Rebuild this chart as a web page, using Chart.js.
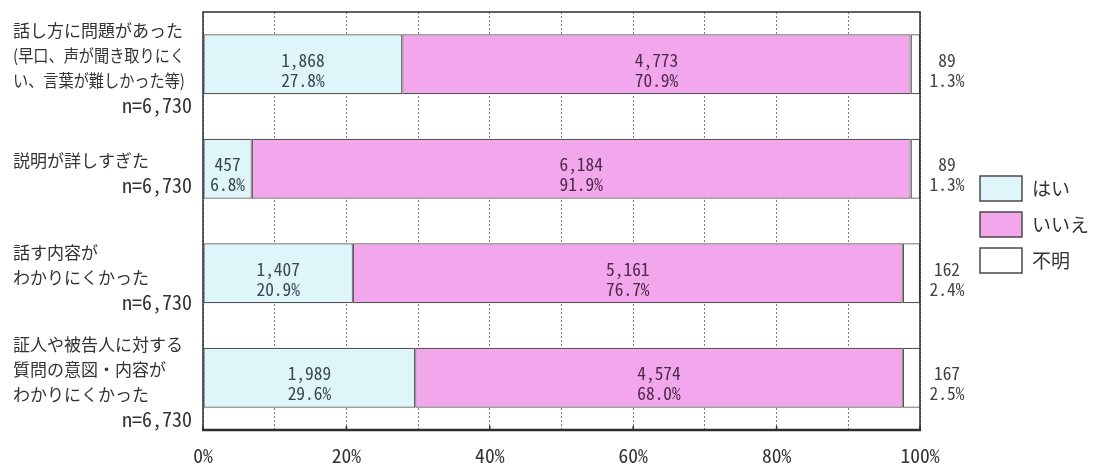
<!DOCTYPE html>
<html lang="ja">
<head>
<meta charset="utf-8">
<title>法廷での説明についての回答</title>
<script src="https://cdn.jsdelivr.net/npm/chart.js@4.4.1/dist/chart.umd.min.js"></script>
<style>
  html, body { margin: 0; padding: 0; background: #ffffff; }
  #wrap { position: relative; width: 1094px; height: 464px; }
</style>
</head>
<body>
<div id="wrap"><canvas id="chart"></canvas></div>
<script>
// Question labels (one entry per line) and sample sizes
const categories = [
  ['話し方に問題があった', '(早口、声が聞き取りにく', 'い、言葉が難しかった等)'],
  ['説明が詳しすぎた'],
  ['話す内容が', 'わかりにくかった'],
  ['証人や被告人に対する', '質問の意図・内容が', 'わかりにくかった']
];
const sampleSizes = [6730, 6730, 6730, 6730];

// Answer counts
const yesCounts = [1868, 457, 1407, 1989];
const noCounts = [4773, 6184, 5161, 4574];
const unknownCounts = [89, 89, 162, 167];

// Answer shares (%)
const yesPct = [27.8, 6.8, 20.9, 29.6];
const noPct = [70.9, 91.9, 76.7, 68.0];
const unknownPct = [1.3, 1.3, 2.4, 2.5];

// Series names and axis ticks
const seriesNames = ['はい', 'いいえ', '不明'];
const xTicks = [0, 20, 40, 60, 80, 100];

const COLORS = {
  yes: '#def6fa',
  no: '#f2a6ec',
  unknown: '#ffffff',
  border: '#555555',
  frame: '#2e2e2e',
  grid: '#7a7a7a',
  text: '#333333'
};

const JP_FONT = '"Noto Sans CJK JP", "Noto Sans", sans-serif';
const MONO_FONT = '"Noto Sans Mono CJK JP", "Liberation Mono", monospace';

// Pick a monospace font size that gives the requested character cell width
const sizeCache = {};
function monoSize(ctx, cell) {
  if (!sizeCache.w) {
    ctx.save();
    ctx.font = '100px ' + MONO_FONT;
    sizeCache.w = ctx.measureText('0').width;
    ctx.restore();
  }
  return cell * 100 / sizeCache.w;
}

const fmtCount = n => n.toLocaleString('en-US');
const fmtPct = p => p.toFixed(1) + '%';

const counts = [yesCounts, noCounts, unknownCounts];
const pcts = [yesPct, noPct, unknownPct];

// Plot frame, small bottom ticks, value labels, left question labels, legend
const decorations = {
  id: 'decorations',
  afterDatasetsDraw(chart) {
    const { ctx, chartArea: a, scales } = chart;
    const xs = scales.x, ys = scales.y;

    // value labels
    ctx.save();
    ctx.font = monoSize(ctx, 8.7).toFixed(2) + 'px ' + MONO_FONT;
    ctx.textAlign = 'center';
    ctx.textBaseline = 'middle';
    chart.data.datasets.forEach((ds, di) => {
      const meta = chart.getDatasetMeta(di);
      meta.data.forEach((bar, i) => {
        let cx;
        if (di === 2) {
          cx = a.right + 27;
          ctx.fillStyle = '#444444';
        } else {
          cx = (bar.x + bar.base) / 2;
          ctx.fillStyle = di === 0 ? '#3b4650' : '#4c2a4a';
        }
        ctx.fillText(fmtCount(counts[di][i]), cx, bar.y - 4);
        ctx.fillText(fmtPct(pcts[di][i]), cx, bar.y + 16);
      });
    });
    ctx.restore();

    // frame around the plot
    ctx.save();
    ctx.strokeStyle = COLORS.frame;
    ctx.lineWidth = 1.5;
    ctx.beginPath();
    ctx.moveTo(a.left, a.bottom);
    ctx.lineTo(a.left, a.top);
    ctx.lineTo(a.right, a.top);
    ctx.lineTo(a.right, a.bottom);
    ctx.stroke();
    ctx.lineWidth = 2.5;
    ctx.beginPath();
    ctx.moveTo(a.left - 1, a.bottom);
    ctx.lineTo(a.right + 1, a.bottom);
    ctx.stroke();
    ctx.lineWidth = 1.5;
    xTicks.forEach(v => {
      const px = xs.getPixelForValue(v);
      ctx.beginPath();
      ctx.moveTo(px, a.bottom);
      ctx.lineTo(px, a.bottom - 4);
      ctx.stroke();
    });
    ctx.restore();

    // question labels on the left
    ctx.save();
    ctx.fillStyle = COLORS.text;
    ctx.textBaseline = 'middle';
    const lh = 25;
    categories.forEach((lines, i) => {
      const cy = ys.getPixelForValue(i) + 4;
      const total = lines.length + 1;
      const y0 = cy - (total - 1) * lh / 2;
      ctx.font = '17px ' + JP_FONT;
      ctx.textAlign = 'left';
      lines.forEach((t, k) => ctx.fillText(t, 13, y0 + k * lh, 172));
      ctx.font = monoSize(ctx, 10).toFixed(2) + 'px ' + MONO_FONT;
      ctx.textAlign = 'right';
      ctx.fillText('n=' + fmtCount(sampleSizes[i]), a.left - 11, y0 + lines.length * lh);
    });
    ctx.restore();

    // legend
    ctx.save();
    const lx = 980, bw = 42, bh = 25;
    const tops = [176, 212, 248];
    chart.data.datasets.forEach((ds, di) => {
      ctx.fillStyle = ds.backgroundColor;
      ctx.fillRect(lx, tops[di], bw, bh);
      ctx.strokeStyle = '#4a4a4a';
      ctx.lineWidth = 1.5;
      ctx.strokeRect(lx, tops[di], bw, bh);
      ctx.fillStyle = COLORS.text;
      ctx.font = '19px ' + JP_FONT;
      ctx.textAlign = 'left';
      ctx.textBaseline = 'middle';
      ctx.fillText(ds.label, lx + 52, tops[di] + bh / 2);
    });
    ctx.restore();
  }
};

const barBase = {
  borderColor: COLORS.border,
  borderWidth: 1.2,
  borderSkipped: false,
  barPercentage: 0.575,
  categoryPercentage: 1.0
};

new Chart(document.getElementById('chart'), {
  type: 'bar',
  data: {
    labels: categories.map(l => l.join('')),
    datasets: [
      Object.assign({ label: seriesNames[0], data: yesPct, backgroundColor: COLORS.yes }, barBase),
      Object.assign({ label: seriesNames[1], data: noPct, backgroundColor: COLORS.no }, barBase),
      Object.assign({ label: seriesNames[2], data: unknownPct, backgroundColor: COLORS.unknown }, barBase)
    ]
  },
  options: {
    indexAxis: 'y',
    responsive: true,
    maintainAspectRatio: false,
    animation: false,
    layout: { padding: { left: 203, right: 174, top: 12, bottom: 0 } },
    plugins: {
      legend: { display: false },
      tooltip: { enabled: false }
    },
    scales: {
      x: {
        stacked: true,
        min: 0,
        max: 100,
        // the dash here also applies to the vertical grid lines
        border: { display: false, dash: [2, 2] },
        grid: {
          color: COLORS.grid,
          lineWidth: 1,
          drawTicks: false
        },
        ticks: {
          stepSize: 10,
          autoSkip: false,
          maxRotation: 0,
          padding: 14,
          color: COLORS.text,
          font: ctx => ({ family: MONO_FONT, size: monoSize(ctx.chart.ctx, 9.8) }),
          callback: v => (xTicks.includes(v) ? v + '%' : '')
        },
        afterFit: scale => { scale.height = 34; }
      },
      y: {
        stacked: true,
        display: false,
        grid: { display: false }
      }
    }
  },
  plugins: [decorations]
});
</script>
</body>
</html>
